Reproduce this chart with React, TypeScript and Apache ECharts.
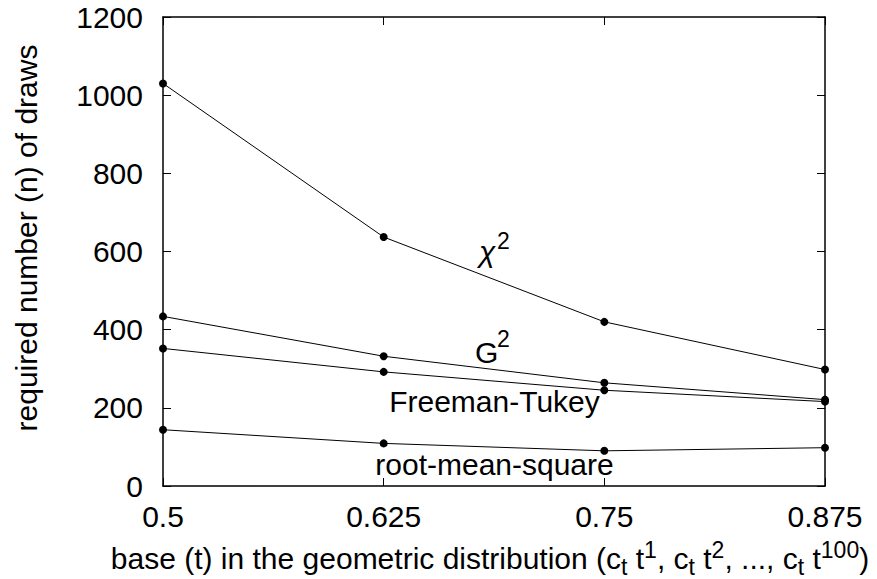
import { useEffect, useRef } from 'react';
import * as echarts from 'echarts';

const xValues = [0.5, 0.625, 0.75, 0.875];
const chiSquare = [1030, 637, 420, 298];
const gSquare = [434, 332, 264, 221];
const freemanTukey = [352, 292, 245, 216];
const rootMeanSquare = [144, 109, 90, 98];

const xTicks = { min: 0.5, max: 0.875, interval: 0.125 };
const yTicks = { min: 0, max: 1200, interval: 200 };

const FONT = '"Liberation Sans", Arial, Helvetica, sans-serif';
const FS = 30;
const SUP = 23;

function pairs(ys: number[]) {
  return xValues.map((x, i) => [x, ys[i]]);
}

export default function App() {
  const ref = useRef<HTMLDivElement>(null);
  useEffect(() => {
    const chart = echarts.init(ref.current!, undefined, { renderer: 'svg' });
    const axisLine = { show: true, onZero: false, lineStyle: { color: '#000', width: 1.5 } };
    const axisTick = { show: true, inside: true, length: 8, lineStyle: { color: '#000', width: 1 } };
    const mkSeries = (name: string, ys: number[]) => ({
      name,
      type: 'line',
      xAxisIndex: 0,
      yAxisIndex: 0,
      data: pairs(ys),
      symbol: 'circle',
      symbolSize: 8,
      itemStyle: { color: '#000' },
      lineStyle: { color: '#000', width: 1 },
      silent: true,
    });
    chart.setOption({
      animation: false,
      backgroundColor: '#fff',
      grid: { left: 163, right: 52, top: 17, bottom: 93, containLabel: false },
      xAxis: [
        {
          type: 'value',
          position: 'bottom',
          ...xTicks,
          axisLine,
          axisTick,
          splitLine: { show: false },
          axisLabel: {
            show: true,
            color: '#000',
            fontFamily: FONT,
            fontSize: FS,
            margin: 30,
            verticalAlign: 'middle',
            showMinLabel: true,
            showMaxLabel: true,
            formatter: (v: number) => String(v),
          },
        },
        {
          type: 'value',
          position: 'top',
          ...xTicks,
          axisLine,
          axisTick,
          splitLine: { show: false },
          axisLabel: { show: false },
        },
      ],
      yAxis: [
        {
          type: 'value',
          position: 'left',
          ...yTicks,
          axisLine,
          axisTick,
          splitLine: { show: false },
          axisLabel: {
            show: true,
            color: '#000',
            fontFamily: FONT,
            fontSize: FS,
            margin: 20,
            formatter: (v: number) => String(v),
          },
        },
        {
          type: 'value',
          position: 'right',
          ...yTicks,
          axisLine,
          axisTick,
          splitLine: { show: false },
          axisLabel: { show: false },
        },
      ],
      series: [
        mkSeries('chi2', chiSquare),
        mkSeries('G2', gSquare),
        mkSeries('Freeman-Tukey', freemanTukey),
        mkSeries('root-mean-square', rootMeanSquare),
      ],
      graphic: [
        {
          type: 'text',
          x: 26,
          y: 238,
          rotation: Math.PI / 2,
          style: {
            text: 'required number (n) of draws',
            font: `${FS}px ${FONT}`,
            fill: '#000',
            align: 'center',
            verticalAlign: 'middle',
          },
        },
        {
          type: 'text',
          x: 490,
          y: 558,
          style: {
            text:
              '{n|base (t) in the geometric distribution (c}{sub|t}{n| t}{sup|1}{n|, c}{sub|t}{n| t}{sup|2}{n|, ..., c}{sub|t}{n| t}{sup|100}{n|)}',
            align: 'center',
            verticalAlign: 'middle',
            fill: '#000',
            rich: {
              n: { fontFamily: FONT, fontSize: FS, lineHeight: 40, verticalAlign: 'middle', fill: '#000' },
              sup: { fontFamily: FONT, fontSize: SUP, lineHeight: 20, verticalAlign: 'top', fill: '#000' },
              sub: { fontFamily: FONT, fontSize: SUP, lineHeight: 20, verticalAlign: 'bottom', fill: '#000' },
            },
          },
        },
        {
          type: 'text',
          x: 479,
          y: 251,
          style: { text: 'χ', font: `italic ${FS}px ${FONT}`, fill: '#000', align: 'left', verticalAlign: 'middle' },
        },
        {
          type: 'text',
          x: 497,
          y: 241,
          style: { text: '2', font: `${SUP}px ${FONT}`, fill: '#000', align: 'left', verticalAlign: 'middle' },
        },
        {
          type: 'text',
          x: 475,
          y: 352,
          style: { text: 'G', font: `${FS}px ${FONT}`, fill: '#000', align: 'left', verticalAlign: 'middle' },
        },
        {
          type: 'text',
          x: 497,
          y: 339,
          style: { text: '2', font: `${SUP}px ${FONT}`, fill: '#000', align: 'left', verticalAlign: 'middle' },
        },
        {
          type: 'text',
          x: 494.5,
          y: 401,
          style: { text: 'Freeman-Tukey', font: `${FS}px ${FONT}`, fill: '#000', align: 'center', verticalAlign: 'middle' },
        },
        {
          type: 'text',
          x: 494.5,
          y: 464,
          style: { text: 'root-mean-square', font: `${FS}px ${FONT}`, fill: '#000', align: 'center', verticalAlign: 'middle' },
        },
      ],
    });
    return () => chart.dispose();
  }, []);
  return <div ref={ref} style={{ position: 'fixed', left: 0, top: 0, width: 877, height: 579 }} />;
}
